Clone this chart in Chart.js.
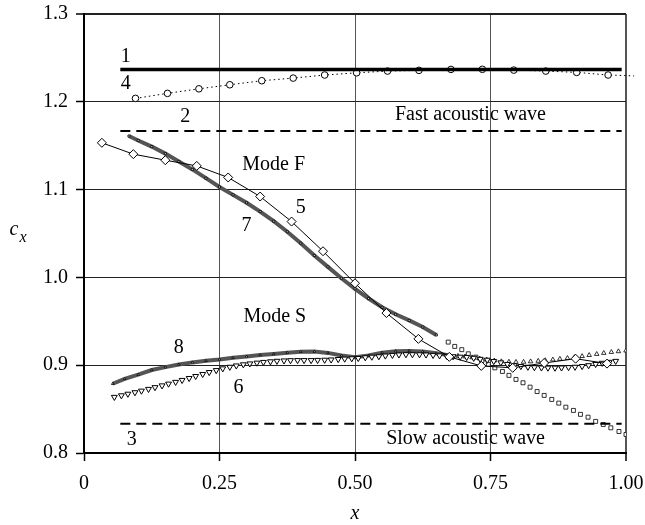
<!DOCTYPE html>
<html>
<head>
<meta charset="utf-8">
<script src="https://cdn.jsdelivr.net/npm/chart.js@4.4.0/dist/chart.umd.min.js"></script>
<style>
  html, body { margin: 0; padding: 0; background: #fff; }
  #wrap { width: 645px; height: 525px; }
</style>
</head>
<body>
<div id="wrap"><canvas id="chart" width="645" height="525"></canvas></div>
<script>
// === Data ===
const xTicks = [0, 0.25, 0.5, 0.75, 1.0];
const xTickLabels = ["0", "0.25", "0.50", "0.75", "1.00"];
const yTicks = [0.8, 0.9, 1.0, 1.1, 1.2, 1.3];

// 1, 2, 3: flat reference levels
const line1X = [0.067, 0.992];
const line1Y = [1.2367, 1.2367];
const line2X = [0.067, 0.992];
const line2Y = [1.1667, 1.1667];
const line3X = [0.067, 0.992];
const line3Y = [0.8333, 0.8333];

// 4: circles, dotted (last point has no marker, runs past the frame)
const c4X = [0.095, 0.154, 0.212, 0.269, 0.328, 0.386, 0.444, 0.503, 0.560, 0.618, 0.677, 0.735, 0.793, 0.852, 0.909, 0.967, 1.015];
const c4Y = [1.2039, 1.2096, 1.2148, 1.2194, 1.2240, 1.2270, 1.2305, 1.2330, 1.2350, 1.2358, 1.2369, 1.2370, 1.2361, 1.2350, 1.2335, 1.2305, 1.2295];

// 5: diamonds, thin line
const c5X = [0.033, 0.091, 0.150, 0.208, 0.266, 0.325, 0.383, 0.441, 0.500, 0.558, 0.617, 0.674, 0.733, 0.791, 0.849, 0.907, 0.965];
const c5Y = [1.1533, 1.1404, 1.1335, 1.1270, 1.1138, 1.0921, 1.0636, 1.0298, 0.9933, 0.9594, 0.9300, 0.9095, 0.8992, 0.8970, 0.9025, 0.9074, 0.9018];

// 6: down triangles
const c6X = [0.056, 0.069, 0.081, 0.094, 0.106, 0.119, 0.131, 0.144, 0.156, 0.169,
             0.181, 0.194, 0.206, 0.219, 0.231, 0.244, 0.256, 0.269, 0.281, 0.294,
             0.306, 0.319, 0.331, 0.344, 0.356, 0.369, 0.381, 0.394, 0.406, 0.419,
             0.431, 0.444, 0.456, 0.469, 0.481, 0.494, 0.506, 0.519, 0.531, 0.544,
             0.556, 0.569, 0.581, 0.594, 0.606, 0.619, 0.631, 0.644, 0.656, 0.669,
             0.681, 0.694, 0.706, 0.719, 0.731, 0.744, 0.756, 0.769, 0.781, 0.794,
             0.806, 0.819, 0.831, 0.844, 0.856, 0.869, 0.881, 0.894, 0.906, 0.919,
             0.931, 0.944, 0.956, 0.969, 0.981];
const c6Y = [0.8637, 0.8655, 0.8673, 0.8690, 0.8708, 0.8728, 0.8748, 0.8768, 0.8788, 0.8808,
             0.8830, 0.8852, 0.8875, 0.8898, 0.8920, 0.8942, 0.8962, 0.8980, 0.8995, 0.9008,
             0.9018, 0.9027, 0.9035, 0.9042, 0.9048, 0.9052, 0.9055, 0.9056, 0.9056, 0.9056,
             0.9058, 0.9060, 0.9063, 0.9068, 0.9073, 0.9077, 0.9080, 0.9088, 0.9095, 0.9100,
             0.9108, 0.9115, 0.9120, 0.9123, 0.9123, 0.9122, 0.9120, 0.9115, 0.9110, 0.9105,
             0.9100, 0.9095, 0.9092, 0.9082, 0.9070, 0.9060, 0.9045, 0.9030, 0.9012, 0.8998,
             0.8988, 0.8980, 0.8975, 0.8972, 0.8970, 0.8970, 0.8972, 0.8976, 0.8980, 0.8988,
             0.8998, 0.9012, 0.9025, 0.9036, 0.9047];

// 7: squares (dense on the left, sparse on the right)
const c7X = [0.083, 0.100, 0.125, 0.150, 0.175, 0.200, 0.225, 0.250, 0.275, 0.300,
             0.325, 0.350, 0.375, 0.400, 0.425, 0.450, 0.475, 0.500, 0.525, 0.550,
             0.575, 0.600, 0.625, 0.650,
             0.672, 0.684, 0.697, 0.709, 0.723, 0.734, 0.746, 0.758, 0.772, 0.784,
             0.797, 0.810, 0.823, 0.836, 0.849, 0.863, 0.876, 0.889, 0.903, 0.916,
             0.930, 0.944, 0.958, 0.972, 0.987, 1.000];
const c7Y = [1.161, 1.156, 1.149, 1.141, 1.132, 1.123, 1.113, 1.103, 1.094, 1.085,
             1.075, 1.064, 1.052, 1.039, 1.025, 1.012, 0.999, 0.987, 0.976, 0.966,
             0.958, 0.951, 0.9435, 0.9345,
             0.9263, 0.9214, 0.9177, 0.9130, 0.9092, 0.9050, 0.9010, 0.8970, 0.8929, 0.8884,
             0.8838, 0.8800, 0.8750, 0.8700, 0.8656, 0.8610, 0.8568, 0.8522, 0.8485, 0.8440,
             0.8408, 0.8360, 0.8325, 0.8287, 0.8245, 0.8211];

// 8: up triangles (dense on the left, sparse on the right)
const c8X = [0.053, 0.075, 0.100, 0.125, 0.150, 0.175, 0.200, 0.225, 0.250, 0.275,
             0.300, 0.325, 0.350, 0.375, 0.400, 0.425, 0.450, 0.475, 0.500, 0.525,
             0.550, 0.575, 0.600, 0.625, 0.650, 0.675,
             0.690, 0.703, 0.716, 0.730, 0.743, 0.757, 0.770, 0.784, 0.797, 0.811,
             0.824, 0.838, 0.851, 0.865, 0.878, 0.892, 0.905, 0.919, 0.932, 0.946,
             0.959, 0.973, 0.986, 1.000];
const c8Y = [0.8789, 0.8845, 0.8893, 0.8945, 0.8978, 0.9008, 0.9032, 0.9050, 0.9065, 0.9085,
             0.9100, 0.9115, 0.9128, 0.9142, 0.9152, 0.9155, 0.9140, 0.9110, 0.9092, 0.9110,
             0.9142, 0.9160, 0.9163, 0.9155, 0.9135, 0.9112,
             0.9105, 0.9098, 0.9088, 0.9075, 0.9063, 0.9052, 0.9043, 0.9038, 0.9036, 0.9037,
             0.9042, 0.9048, 0.9055, 0.9063, 0.9071, 0.9080, 0.9090, 0.9102, 0.9114, 0.9126,
             0.9138, 0.9149, 0.9157, 0.9165];

// labels written inside the plot (data coordinates)
const notes = [
  { text: "1", x: 0.077, y: 1.251 },
  { text: "4", x: 0.077, y: 1.221 },
  { text: "2", x: 0.187, y: 1.183 },
  { text: "Fast acoustic wave", x: 0.713, y: 1.185 },
  { text: "Mode F", x: 0.350, y: 1.128 },
  { text: "5", x: 0.400, y: 1.079 },
  { text: "7", x: 0.300, y: 1.059 },
  { text: "Mode S", x: 0.352, y: 0.955 },
  { text: "8", x: 0.175, y: 0.920 },
  { text: "6", x: 0.285, y: 0.874 },
  { text: "3", x: 0.088, y: 0.815 },
  { text: "Slow acoustic wave", x: 0.704, y: 0.816 }
];

const FONT = '"Liberation Serif", "Times New Roman", serif';

function pts(xs, ys) {
  return xs.map((v, i) => ({ x: v, y: ys[i] }));
}

// === Text inside the plot + axis titles ===
const notesPlugin = {
  id: 'notes',
  afterDatasetsDraw(chart) {
    const { ctx, scales: { x, y } } = chart;
    ctx.save();
    ctx.fillStyle = '#000';
    ctx.textAlign = 'center';
    ctx.textBaseline = 'middle';
    ctx.font = '20px ' + FONT;
    notes.forEach(n => {
      ctx.fillText(n.text, x.getPixelForValue(n.x), y.getPixelForValue(n.y));
    });
    // axis titles
    ctx.font = 'italic 20px ' + FONT;
    ctx.fillText('x', (x.left + x.right) / 2, 514);
    ctx.fillText('c', 14, 230);
    ctx.font = 'italic 16px ' + FONT;
    ctx.fillText('x', 23, 238);
    ctx.restore();
  }
};

const ctx = document.getElementById('chart').getContext('2d');
new Chart(ctx, {
  type: 'scatter',
  data: {
    datasets: [
      {
        data: pts(line1X, line1Y), showLine: true,
        borderColor: '#000', borderWidth: 3.5, pointRadius: 0
      },
      {
        data: pts(line2X, line2Y), showLine: true,
        borderColor: '#000', borderWidth: 2, borderDash: [10, 6], pointRadius: 0
      },
      {
        data: pts(line3X, line3Y), showLine: true,
        borderColor: '#000', borderWidth: 2, borderDash: [10, 6], pointRadius: 0
      },
      {
        data: pts(c4X, c4Y), showLine: true, clip: false,
        borderColor: '#000', borderWidth: 1, borderDash: [1.5, 3],
        pointStyle: 'circle',
        pointRadius: c => (c.dataIndex < c4X.length - 1 ? 3.3 : 0),
        pointBackgroundColor: '#fff', pointBorderColor: '#000', pointBorderWidth: 1
      },
      {
        data: pts(c5X, c5Y), showLine: true,
        borderColor: '#000', borderWidth: 1,
        pointStyle: 'rectRot', pointRadius: 4.5,
        pointBackgroundColor: '#fff', pointBorderColor: '#000', pointBorderWidth: 1
      },
      {
        data: pts(c6X, c6Y), showLine: false,
        pointStyle: 'triangle', rotation: 180, pointRadius: 3.4,
        pointBackgroundColor: '#fff', pointBorderColor: '#000', pointBorderWidth: 1
      },
      {
        data: pts(c7X, c7Y), showLine: true,
        borderColor: '#555', borderWidth: 4,
        segment: {
          borderColor: s => (s.p1.parsed.x > 0.66 ? 'rgba(0,0,0,0)' : '#555')
        },
        pointStyle: 'rect',
        pointRadius: c => (c7X[c.dataIndex] > 0.66 ? 2.8 : 1.5),
        pointBackgroundColor: c => (c7X[c.dataIndex] > 0.66 ? '#fff' : '#ccc'),
        pointBorderColor: '#000', pointBorderWidth: 0.8
      },
      {
        data: pts(c8X, c8Y), showLine: true,
        borderColor: '#555', borderWidth: 4,
        segment: {
          borderColor: s => (s.p1.parsed.x > 0.68 ? 'rgba(0,0,0,0)' : '#555')
        },
        pointStyle: 'triangle',
        pointRadius: c => (c8X[c.dataIndex] > 0.68 ? 2.6 : 1.5),
        pointBackgroundColor: c => (c8X[c.dataIndex] > 0.68 ? '#fff' : '#ccc'),
        pointBorderColor: '#000', pointBorderWidth: 0.8
      }
    ]
  },
  options: {
    responsive: false,
    animation: false,
    events: [],
    layout: { padding: { top: 14, right: 19, left: 0, bottom: 0 } },
    plugins: {
      legend: { display: false },
      tooltip: { enabled: false }
    },
    scales: {
      x: {
        type: 'linear', min: 0, max: 1,
        afterBuildTicks: s => { s.ticks = xTicks.map(v => ({ value: v })); },
        afterFit: s => {
          s.height = 72;
          s.paddingLeft = 0;
          s.paddingRight = 0;
        },
        ticks: {
          color: '#000', font: { family: FONT, size: 20 }, padding: 11,
          maxRotation: 0, autoSkip: false,
          callback: (v, i) => xTickLabels[i]
        },
        grid: {
          color: '#555',
          lineWidth: c => (c.tick && c.tick.value === 1 ? 2 : 1),
          tickLength: 8, tickColor: '#000', tickWidth: 1.5
        },
        border: { color: '#000', width: 2 }
      },
      y: {
        type: 'linear', min: 0.8, max: 1.3,
        afterBuildTicks: s => { s.ticks = yTicks.map(v => ({ value: v })); },
        afterFit: s => {
          s.width = 84;
          s.paddingTop = 0;
          s.paddingBottom = 0;
        },
        ticks: {
          color: '#000', font: { family: FONT, size: 20 }, padding: 8,
          callback: v => v.toFixed(1)
        },
        grid: {
          color: '#222',
          lineWidth: c => (c.tick && c.tick.value === 1.3 ? 2 : 1),
          tickLength: 8, tickColor: '#000', tickWidth: 1.5
        },
        border: { color: '#000', width: 2 }
      }
    }
  },
  plugins: [notesPlugin]
});
</script>
</body>
</html>
